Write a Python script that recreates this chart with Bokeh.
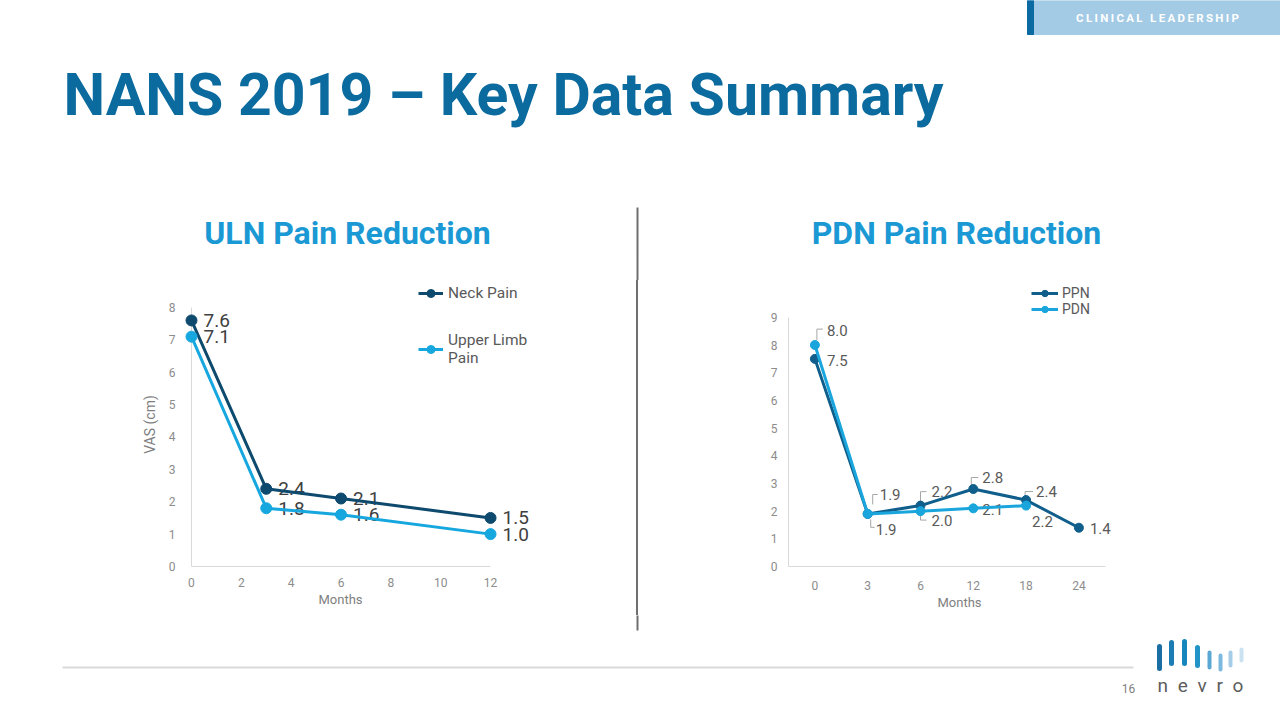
from bokeh.plotting import figure
from bokeh.layouts import column, row
from bokeh.models import Range1d, Legend, LegendItem, FixedTicker, ColumnDataSource, Spacer, Title
from bokeh.core.properties import value
from bokeh.embed import file_html
from bokeh.resources import INLINE

# ---------------- data ----------------
uln_months = [0, 3, 6, 12]
neck_pain = [7.6, 2.4, 2.1, 1.5]
upper_limb_pain = [7.1, 1.8, 1.6, 1.0]
uln_x_ticks = [0, 2, 4, 6, 8, 10, 12]
uln_y_ticks = [0, 1, 2, 3, 4, 5, 6, 7, 8]

pdn_month_labels = ["0", "3", "6", "12", "18", "24"]
ppn_values = [7.5, 1.9, 2.2, 2.8, 2.4, 1.4]
pdn_values = [8.0, 1.9, 2.0, 2.1, 2.2]
pdn_y_ticks = [0, 1, 2, 3, 4, 5, 6, 7, 8, 9]

# ---------------- styles ----------------
FONT = "Roboto"
NAVY = "#0d4a6d"
CYAN = "#17a7df"
PPN_C = "#0f5e8b"
PDN_C = "#1aa6dc"
TICK_C = "#8c8c8c"
AXLAB_C = "#7f7f7f"
AXIS_LINE = "#d9d9d9"
DIVIDER = "#6f6f6f"

# label offsets (screen px) for right chart data labels
ppn_lab_dx = [12, 12, 11, 9, 10, 11]
ppn_lab_dy = [2, -19.5, -14, -11.5, -8.6, 0.5]
pdn_lab_dx = [12, 8, 11, 9, 6]
pdn_lab_dy = [-15, 15.5, 9, 1, 16]
# leader brackets (screen px offsets from point)
ppn_leaders = {1: [(5, -9.5), (5, -19.5), (10, -19.5)],
               2: [(0, -1), (0, -14), (6, -14)],
               3: [(-2, -2.5), (-2, -11.5), (5, -11.5)],
               4: [(-1, -2.6), (-1, -8.6), (7, -8.6)]}
pdn_leaders = {0: [(2, -5), (2, -16), (8, -16)],
               1: [(3, 5.5), (3, 13.5), (7, 13.5)],
               2: [(0, 1.5), (0, 9), (6, 9)]}


def blank(w, h, xr, yr):
    f = figure(width=w, height=h, x_range=Range1d(*xr), y_range=Range1d(*yr),
               x_axis_type=None, y_axis_type=None, output_backend="svg",
               toolbar_location=None, min_border=0)
    f.grid.visible = False
    f.outline_line_color = None
    f.background_fill_color = "white"
    f.border_fill_color = "white"
    return f


def style_axes(p, tick_size):
    for ax in (p.xaxis[0], p.yaxis[0]):
        ax.axis_line_color = AXIS_LINE
        ax.axis_line_width = 1
        ax.major_tick_line_color = None
        ax.minor_tick_line_color = None
        ax.major_label_text_font = FONT
        ax.major_label_text_font_size = tick_size
        ax.major_label_text_color = TICK_C
        ax.axis_label_text_font = FONT
        ax.axis_label_text_font_size = "13px"
        ax.axis_label_text_font_style = "normal"
        ax.axis_label_text_color = AXLAB_C
    p.grid.visible = False
    p.outline_line_color = None


# ---------------- top band ----------------
top = blank(1280, 280, (0, 1280), (280, 0))
top.quad(left=[1027], right=[1280], top=[0], bottom=[34], color="#a4cbe5")
top.quad(left=[1027], right=[1033], top=[0], bottom=[34], color="#0b6aa2")
top.text(x=[1157], y=[17.5], text=["\u2009".join(list("CLINICAL LEADERSHIP"))],
         text_font=value(FONT), text_font_style="bold", text_font_size="11.5px",
         text_color="white", text_align="center", text_baseline="middle")
top.text(x=[63], y=[94], text=["NANS 2019 \u2013 Key Data Summary"],
         text_font=value(FONT), text_font_style="bold", text_font_size="59px",
         text_color="#0b6a9e", text_align="left", text_baseline="middle")
top.text(x=[347, 956], y=[232.5, 232.5], text=["ULN Pain Reduction", "PDN Pain Reduction"],
         text_font=value(FONT), text_font_style="bold", text_font_size="32px",
         text_color="#1b99d4", text_align="center", text_baseline="middle")
top.segment(x0=[637], y0=[207], x1=[637], y1=[281], line_color=DIVIDER, line_width=2)

# ---------------- left chart ----------------
left = figure(width=636, height=335, x_range=Range1d(-0.401, 14.005), y_range=Range1d(0, 8.772),
              output_backend="svg", toolbar_location=None,
              min_border_left=181, min_border_right=96, min_border_top=2, min_border_bottom=49)
style_axes(left, "12px")
left.xaxis.ticker = FixedTicker(ticks=uln_x_ticks)
left.xaxis.bounds = (0, 12)
left.xaxis.major_label_standoff = 5
left.yaxis.ticker = FixedTicker(ticks=uln_y_ticks)
left.yaxis.bounds = (0, 8)
left.yaxis.axis_line_color = None
left.yaxis.axis_label = "VAS (cm)"
left.yaxis.axis_label_text_font_size = "14px"
left.yaxis.major_label_standoff = 0
left.yaxis.axis_label_standoff = 8
# x-axis title centred under the 0-12 axis span (the frame is wider to leave room for labels)
left.add_layout(Title(text="Months", align="left", offset=137, standoff=0,
                      text_font=FONT, text_font_size="13px", text_font_style="normal",
                      text_color=AXLAB_C), "below")
# y axis line at x = 0 (the frame starts a little left of it so markers are not clipped)
left.segment(x0=[uln_x_ticks[0]], y0=[uln_y_ticks[0]], x1=[uln_x_ticks[0]], y1=[uln_y_ticks[-1]],
             line_color=AXIS_LINE, line_width=1)

lsrc = ColumnDataSource(dict(m=uln_months, neck=neck_pain, upper=upper_limb_pain,
                             neck_t=[f"{v:.1f}" for v in neck_pain],
                             upper_t=[f"{v:.1f}" for v in upper_limb_pain]))
for col, tcol in (("neck", "neck_t"), ("upper", "upper_t")):
    left.text(x="m", y=col, text=tcol, source=lsrc, x_offset=12, text_baseline="middle",
              text_align="left", text_font=value(FONT), text_font_size="19px", text_color="#404040")
l1 = left.line("m", "neck", source=lsrc, line_color=NAVY, line_width=3)
s1 = left.scatter("m", "neck", source=lsrc, size=11, fill_color=NAVY, line_color=NAVY)
l2 = left.line("m", "upper", source=lsrc, line_color=CYAN, line_width=3)
s2 = left.scatter("m", "upper", source=lsrc, size=11, fill_color=CYAN, line_color=CYAN)

leg1 = Legend(items=[LegendItem(label="Neck Pain", renderers=[l1, s1]),
                     LegendItem(label="Upper Limb\nPain", renderers=[l2, s2])],
              location=(237, 199), border_line_color=None, background_fill_alpha=0,
              padding=0, margin=0, spacing=28, glyph_width=25, glyph_height=20,
              label_height=20, label_standoff=5, label_text_font=FONT,
              label_text_font_size="15.5px", label_text_color="#595959")
left.add_layout(leg1)

# ---------------- divider ----------------
div = Spacer(width=2, height=335, styles={"background-color": DIVIDER})

# ---------------- right chart ----------------
n = len(pdn_month_labels)
idx = list(range(n))
RW, RML, RMR = 642, 150, 150
R_XEND = -0.5 + (RW - RML - RMR) / 52.8
R_YEND = (335 - 2 - 48) / 27.78
right = figure(width=RW, height=335, x_range=Range1d(-0.5, R_XEND), y_range=Range1d(0, R_YEND),
               output_backend="svg", toolbar_location=None,
               min_border_left=RML, min_border_right=RMR, min_border_top=2, min_border_bottom=48)
style_axes(right, "12px")
right.xaxis.ticker = FixedTicker(ticks=idx)
right.xaxis.major_label_overrides = {i: lab for i, lab in enumerate(pdn_month_labels)}
right.xaxis.bounds = (-0.5, n - 0.5)
right.xaxis.axis_label = "Months"
right.xaxis.major_label_standoff = 8
right.xaxis.axis_label_standoff = 2
right.yaxis.ticker = FixedTicker(ticks=pdn_y_ticks)
right.yaxis.bounds = (0, 9)
right.yaxis.major_label_standoff = 5

px_x = (RW - RML - RMR) / (R_XEND + 0.5)
px_y = (335 - 2 - 48) / R_YEND


def leader_lines(vals, leaders):
    xs, ys = [], []
    for i, pts in leaders.items():
        xs.append([i + dx / px_x for dx, dy in pts])
        ys.append([vals[i] - dy / px_y for dx, dy in pts])
    return xs, ys


for vals, leaders in ((ppn_values, ppn_leaders), (pdn_values, pdn_leaders)):
    xs, ys = leader_lines(vals, leaders)
    right.multi_line(xs=xs, ys=ys, line_color="#a6a6a6", line_width=1)

psrc = ColumnDataSource(dict(x=idx, y=ppn_values, t=[f"{v:.1f}" for v in ppn_values],
                             dx=ppn_lab_dx, dy=ppn_lab_dy))
dsrc = ColumnDataSource(dict(x=idx[:len(pdn_values)], y=pdn_values,
                             t=[f"{v:.1f}" for v in pdn_values], dx=pdn_lab_dx, dy=pdn_lab_dy))
for src in (psrc, dsrc):
    right.text(x="x", y="y", text="t", source=src, x_offset="dx", y_offset="dy",
               text_baseline="middle", text_align="left", text_font=value(FONT),
               text_font_size="15px", text_color="#595959")
r1 = right.line("x", "y", source=psrc, line_color=PPN_C, line_width=3)
rs1 = right.scatter("x", "y", source=psrc, size=9, fill_color=PPN_C, line_color=PPN_C)
r2 = right.line("x", "y", source=dsrc, line_color=PDN_C, line_width=3)
rs2 = right.scatter("x", "y", source=dsrc, size=9, fill_color=PDN_C, line_color=PDN_C)

leg2 = Legend(items=[LegendItem(label="PPN", renderers=[r1, rs1]),
                     LegendItem(label="PDN", renderers=[r2, rs2])],
              location=(243, 249), border_line_color=None, background_fill_alpha=0,
              padding=0, margin=0, spacing=0, glyph_width=27, glyph_height=16,
              label_height=16, label_standoff=4, label_text_font=FONT,
              label_text_font_size="14px", label_text_color="#595959")
right.add_layout(leg2)

# ---------------- bottom band ----------------
bottom = blank(1280, 105, (0, 1280), (720, 615))
bottom.segment(x0=[637], y0=[614], x1=[637], y1=[630], line_color=DIVIDER, line_width=2)
bottom.segment(x0=[62], y0=[667], x1=[1133], y1=[667], line_color="#d9d9d9", line_width=2)
bottom.text(x=[1128], y=[688], text=["16"], text_font=value(FONT), text_font_size="12px",
            text_color="#7f7f7f", text_align="center", text_baseline="middle")
logo_x = [1159, 1171, 1184, 1197, 1209, 1220, 1230, 1241]
logo_top = [646, 642, 641, 647, 652, 655, 652, 649]
logo_bot = [668, 663, 663, 665, 667, 669, 665, 660]
logo_w = [5, 5, 5, 5, 4, 4, 4, 4]
logo_c = ["#1a6ea3", "#1b7db3", "#1687bd", "#2394c7", "#5aa7d3", "#7db9de", "#a5cde8", "#cbe2f1"]
bottom.segment(x0=logo_x, y0=logo_top, x1=logo_x, y1=logo_bot, line_color=logo_c,
               line_width=logo_w, line_cap="round")
bottom.text(x=[1200], y=[685], text=["\u2002".join(list("nevro"))], text_font=value(FONT),
            text_font_size="19px", text_color="#5d5d5d", text_align="center",
            text_baseline="middle")

page = column(top, row(left, div, right), bottom)
open("out.html", "w").write(file_html(page, INLINE))
